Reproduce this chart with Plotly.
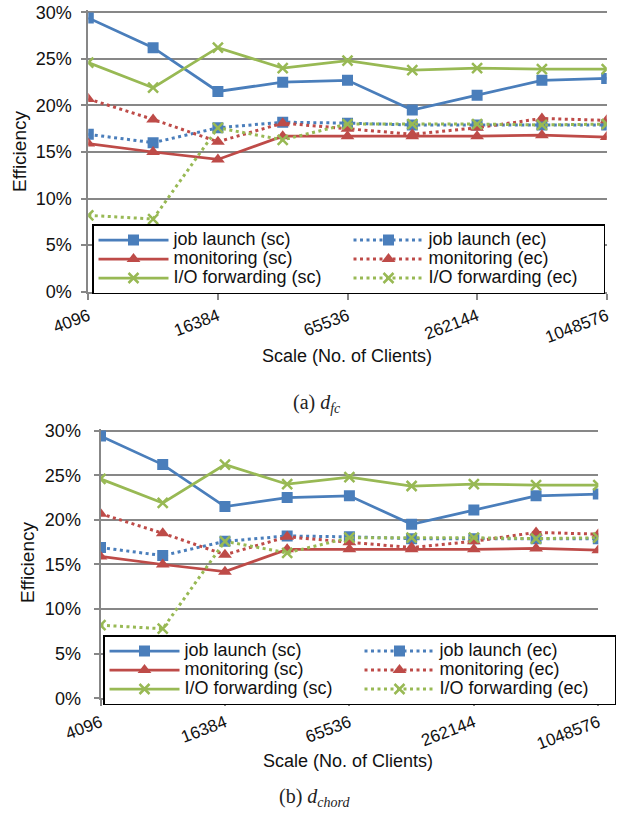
import numpy as np
import plotly.graph_objects as go

# Number of clients (x axis, log2 spaced) and the labelled ticks
clients = [4096, 8192, 16384, 32768, 65536, 131072, 262144, 524288, 1048576]
tick_clients = [4096, 16384, 65536, 262144, 1048576]
tick_labels = ["4096", "16384", "65536", "262144", "1048576"]
pct_ticks = [0, 5, 10, 15, 20, 25, 30]
pct_labels = ["0%", "5%", "10%", "15%", "20%", "25%", "30%"]

# Efficiency (%) per service, strong (sc) and eventual (ec) consistency
job_launch_sc = [29.4, 26.2, 21.5, 22.5, 22.7, 19.5, 21.1, 22.7, 22.9]
job_launch_ec = [16.9, 16.0, 17.6, 18.2, 18.1, 17.9, 17.9, 17.9, 17.9]
monitoring_sc = [15.9, 15.0, 14.2, 16.7, 16.7, 16.7, 16.7, 16.8, 16.6]
monitoring_ec = [20.7, 18.5, 16.1, 18.1, 17.5, 16.9, 17.6, 18.6, 18.4]
io_fwd_sc = [24.6, 21.9, 26.2, 24.0, 24.8, 23.8, 24.0, 23.9, 23.9]
io_fwd_ec = [8.2, 7.8, 17.6, 16.3, 18.0, 18.0, 18.0, 17.9, 18.0]

series_names = ["job launch (sc)", "job launch (ec)", "monitoring (sc)",
                "monitoring (ec)", "I/O forwarding (sc)", "I/O forwarding (ec)"]
series_values = [job_launch_sc, job_launch_ec, monitoring_sc,
                 monitoring_ec, io_fwd_sc, io_fwd_ec]

W, H = 626, 814
BLUE, RED, GREEN = "#4A7EBB", "#BE4B48", "#98B954"
GRID = "#878787"
SANS = "Liberation Sans, Arial, sans-serif"
SERIF = "Liberation Serif, DejaVu Serif, serif"
YMAX = 30.2

styles = [
    (BLUE, "solid", "square"), (BLUE, "dot", "square"),
    (RED, "solid", "triangle-up"), (RED, "dot", "triangle-up"),
    (GREEN, "solid", "x-thin"), (GREEN, "dot", "x-thin"),
]

# pixel geometry of each panel: left, right, y of 0 %, y of 30 %
panels = [
    dict(ax="", left=88.3, right=606.7, y0=291.7, y30=12.3, legend="legend",
         leg_x=92, leg_y=224, std=6, ytitle=(19, 152), xtitle=(347, 356),
         caption="(a) <i>d</i><sub><i>fc</i></sub>", cap=(317, 403)),
    dict(ax="2", left=100.5, right=598.3, y0=698.3, y30=430.7, legend="legend2",
         leg_x=103, leg_y=635, std=9, ytitle=(27, 563), xtitle=(348, 761),
         caption="(b) <i>d</i><sub><i>chord</i></sub>", cap=(314, 797)),
]

fig = go.Figure()
layout = dict(width=W, height=H, margin=dict(l=0, r=0, t=0, b=0),
              paper_bgcolor="white", plot_bgcolor="white",
              font=dict(family=SANS, size=18, color="#111111"),
              showlegend=True, annotations=[])

for p in panels:
    xa, ya = "x" + p["ax"], "y" + p["ax"]
    for name, vals, (color, dash, sym) in zip(series_names, series_values, styles):
        is_x = sym == "x-thin"
        fig.add_trace(go.Scatter(
            x=clients, y=vals, xaxis=xa, yaxis=ya, legend=p["legend"],
            name=f'<span style="font-size:18px">{name}</span>',
            mode="lines+markers",
            line=dict(color=color, width=2.75 if dash == "solid" else 3,
                      dash="solid" if dash == "solid" else "3px,3.5px"),
            marker=dict(symbol=sym, size=10 if is_x else (11 if sym == "square" else 12),
                        color=color,
                        line=dict(color=color, width=2.5 if is_x else 0)),
        ))

    pxpp = (p["y0"] - p["y30"]) / 30.0
    top = p["y0"] - pxpp * YMAX
    xd = [p["left"] / W, p["right"] / W]
    yd = [1 - p["y0"] / H, 1 - top / H]
    layout["xaxis" + p["ax"]] = dict(
        domain=xd, anchor=ya, type="log",
        range=[np.log10(clients[0]), np.log10(clients[-1])],
        tickvals=tick_clients, ticktext=tick_labels, tickangle=-21,
        ticks="outside", ticklen=6, tickwidth=2, tickcolor=GRID,
        showline=True, linecolor=GRID, linewidth=2, showgrid=False,
        zeroline=False, automargin=False, tickfont=dict(size=17))
    layout["yaxis" + p["ax"]] = dict(
        domain=yd, anchor=xa, range=[0, YMAX], tickvals=pct_ticks,
        ticktext=pct_labels, ticks="outside", ticklen=5, tickwidth=2,
        tickcolor=GRID, showline=True, linecolor=GRID, linewidth=2,
        showgrid=True, gridcolor=GRID, gridwidth=2, zeroline=False,
        automargin=False, ticklabelstandoff=p["std"], tickfont=dict(size=18))
    layout[p["legend"]] = dict(
        x=p["leg_x"] / W, y=1 - p["leg_y"] / H, xanchor="left", yanchor="top",
        orientation="h", bgcolor="white", bordercolor="black", borderwidth=1.5,
        font=dict(family=SANS, size=12.3, color="#111111"),
        itemwidth=70, entrywidth=170, entrywidthmode="pixels",
        traceorder="normal", itemclick=False, itemdoubleclick=False)

    layout["annotations"] += [
        dict(text="Efficiency", textangle=-90, xref="paper", yref="paper",
             x=p["ytitle"][0] / W, y=1 - p["ytitle"][1] / H,
             xanchor="center", yanchor="middle", showarrow=False,
             font=dict(size=19)),
        dict(text="Scale (No. of Clients)", xref="paper", yref="paper",
             x=p["xtitle"][0] / W, y=1 - p["xtitle"][1] / H,
             xanchor="center", yanchor="middle", showarrow=False,
             font=dict(size=18)),
        dict(text=p["caption"], xref="paper", yref="paper",
             x=p["cap"][0] / W, y=1 - p["cap"][1] / H,
             xanchor="center", yanchor="middle", showarrow=False,
             font=dict(family=SERIF, size=20, color="#222222")),
    ]

fig.update_layout(**layout)
fig.write_html("out.html")
